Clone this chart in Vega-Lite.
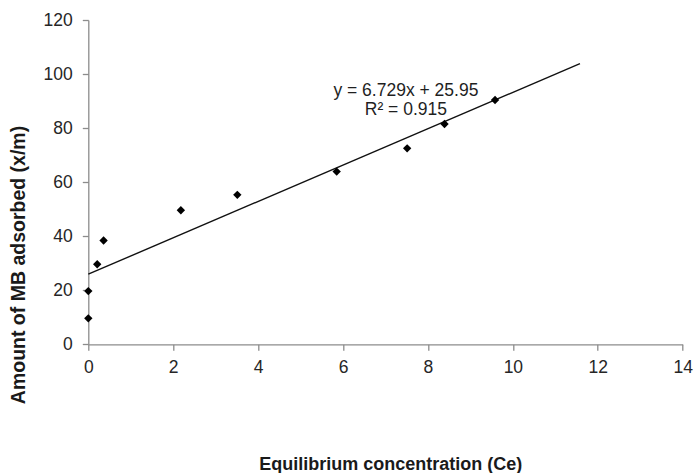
{
  "$schema": "https://vega.github.io/schema/vega-lite/v6.json",
  "autosize": "none",
  "width": 594.4,
  "height": 324.3,
  "padding": {"left": 88.3, "top": 20, "right": 11.3, "bottom": 128.7},
  "background": "white",
  "config": {
    "view": {"stroke": null},
    "font": "Liberation Sans",
    "axis": {
      "grid": false,
      "labelFlush": false,
      "domainColor": "#8c8c8c",
      "domainWidth": 1.3,
      "tickColor": "#8c8c8c",
      "tickWidth": 1.3,
      "tickSize": 6,
      "labelFont": "Liberation Sans",
      "labelFontSize": 17.5,
      "labelColor": "#262626",
      "titleFont": "Liberation Sans",
      "titleFontWeight": "bold",
      "titleColor": "#1a1a1a"
    }
  },
  "datasets": {
    "points": [
      {"ce": 0.0, "xm": 9.6},
      {"ce": 0.0, "xm": 19.7},
      {"ce": 0.21, "xm": 29.6},
      {"ce": 0.36, "xm": 38.4},
      {"ce": 2.18, "xm": 49.6},
      {"ce": 3.51, "xm": 55.3},
      {"ce": 5.85, "xm": 63.9},
      {"ce": 7.51, "xm": 72.5},
      {"ce": 8.39, "xm": 81.5},
      {"ce": 9.58, "xm": 90.4}
    ],
    "trend": [
      {"ce": 0.0, "xm": 25.95},
      {"ce": 11.58, "xm": 103.87}
    ],
    "labels": [
      {"ce": 7.48, "xm": 91.7, "text": "y = 6.729x + 25.95"},
      {"ce": 7.48, "xm": 84.9, "text": "R² = 0.915"}
    ]
  },
  "encoding": {
    "x": {
      "field": "ce",
      "type": "quantitative",
      "scale": {"domain": [0, 14], "nice": false, "zero": false},
      "axis": {
        "title": "Equilibrium concentration (Ce)",
        "titleFontSize": 18,
        "titleX": 302,
        "titleY": 124.7,
        "titleAlign": "center",
        "titleBaseline": "alphabetic",
        "values": [0, 2, 4, 6, 8, 10, 12, 14],
        "labelPadding": 8
      }
    },
    "y": {
      "field": "xm",
      "type": "quantitative",
      "scale": {"domain": [0, 120], "nice": false},
      "axis": {
        "title": "Amount of MB adsorbed (x/m)",
        "titleFontSize": 19.5,
        "titleAngle": 270,
        "titleX": -70.3,
        "titleY": 244.5,
        "titleAlign": "center",
        "titleBaseline": "middle",
        "values": [0, 20, 40, 60, 80, 100, 120],
        "labelPadding": 10
      }
    }
  },
  "layer": [
    {
      "data": {"name": "trend"},
      "mark": {"type": "line", "color": "#111111", "strokeWidth": 1.4}
    },
    {
      "data": {"name": "points"},
      "mark": {"type": "point", "shape": "diamond", "filled": true, "color": "#000000", "size": 70, "opacity": 1}
    },
    {
      "data": {"name": "labels"},
      "mark": {"type": "text", "font": "Liberation Sans", "fontSize": 17.5, "color": "#1f1f1f", "align": "center", "baseline": "alphabetic"},
      "encoding": {"text": {"field": "text"}}
    }
  ]
}
